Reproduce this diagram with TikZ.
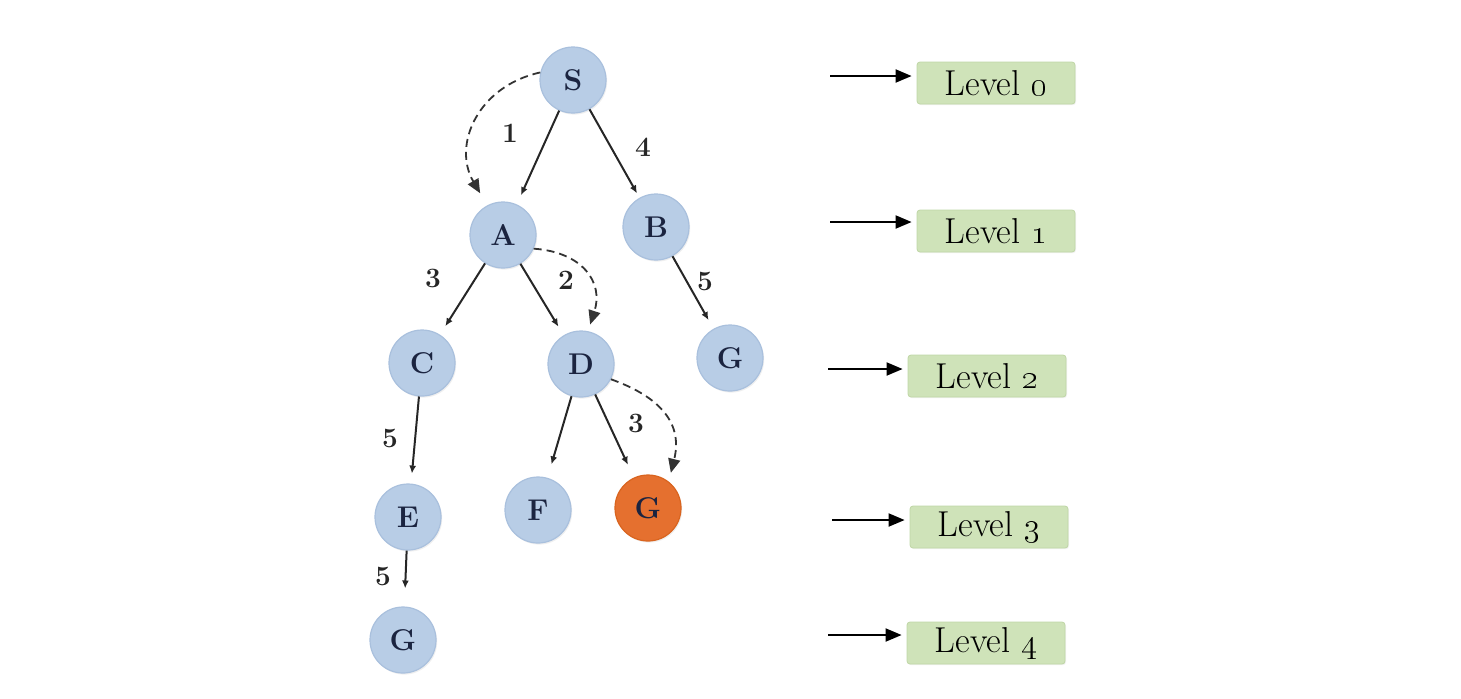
\documentclass[tikz,border=0pt]{standalone}
\usetikzlibrary{arrows.meta,shadows}

\definecolor{nodeblue}{HTML}{B8CDE6}
\definecolor{nodeedge}{HTML}{A9C0DD}
\definecolor{goalorange}{HTML}{E5702F}
\definecolor{goaledge}{HTML}{D9641F}
\definecolor{levgreen}{HTML}{CFE3B9}
\definecolor{levedge}{HTML}{BFD6A6}
\definecolor{inktext}{HTML}{1B2440}

\tikzset{
  state/.style={circle, minimum size=33pt, inner sep=0pt, fill=nodeblue,
    draw=nodeedge, line width=0.6pt, text=inktext,
    font=\fontsize{15}{17}\selectfont\bfseries,
    drop shadow={shadow xshift=0.6pt, shadow yshift=-0.8pt, fill=black!12}},
  goal/.style={state, fill=goalorange, draw=goaledge},
  levelbox/.style={rectangle, rounded corners=1.5pt, minimum width=79pt,
    minimum height=21pt, inner sep=0pt, fill=levgreen, draw=levedge,
    line width=0.4pt, text=black,
    font=\fontsize{18}{20}\selectfont,
    drop shadow={shadow xshift=0.5pt, shadow yshift=-0.6pt, fill=black!10}},
  weight/.style={font=\fontsize{14}{16}\selectfont\bfseries, text=black!85, inner sep=0pt},
  edge/.style={line width=1pt, draw=black!85,
    -{Latex[length=4pt,width=3.5pt]}, shorten >=5pt},
  dashedge/.style={line width=0.9pt, draw=black!80,
    dash pattern=on 4pt off 2.5pt,
    -{Triangle[length=7pt,width=6pt]}},
  levarrow/.style={line width=1pt, draw=black,
    -{Triangle[length=8pt,width=6.5pt]}, shorten >=2.5pt},
}

\begin{document}
\begin{tikzpicture}[x=0.5pt, y=-0.5pt]
  \useasboundingbox (0,0) rectangle (1461,698);

  % search tree
  \node[state] (S)  at (573,80)  {S};
  \node[state] (A)  at (503,235) {A};
  \node[state] (B)  at (656,227) {B};
  \node[state] (C)  at (422,363) {C};
  \node[state] (D)  at (581,364) {D};
  \node[state] (G1) at (730,358) {G};
  \node[state] (E)  at (408,517) {E};
  \node[state] (F)  at (538,510) {F};
  \node[goal]  (G2) at (648,508) {G};
  \node[state] (G3) at (403,640) {G};

  % tree edges
  \draw[edge] (S) -- (A);
  \draw[edge, shorten >=2.5pt] (S) -- (B);
  \draw[edge] (A) -- (C);
  \draw[edge] (A) -- (D);
  \draw[edge] (B) -- (G1);
  \draw[edge] (C) -- (E);
  \draw[edge, shorten >=7pt] (D) -- (F);
  \draw[edge, shorten >=7pt] (D) -- (G2);
  \draw[edge, shorten >=9pt] (E) -- (G3);

  % edge costs
  \node[weight] (w1) at (510,133) {1};
  \node[weight] (w2) at (643,147) {4};
  \node[weight] (w3) at (433,278) {3};
  \node[weight] (w4) at (566,280) {2};
  \node[weight] (w5) at (705,281) {5};
  \node[weight] (w6) at (390,438) {5};
  \node[weight] (w7) at (636,423) {3};
  \node[weight] (w8) at (383,576) {5};

  % dashed search path
  \draw[dashedge, shorten >=7pt] (S.167) .. controls (478,86) and (452,145) .. (A.118);
  \draw[dashedge, shorten >=3.5pt] (A.-24) .. controls (582,252) and (604,282) .. (D.78);
  \draw[dashedge, shorten >=4.5pt] (D.-27) .. controls (655,395) and (684,420) .. (G2.52);

  % level markers
  \node[levelbox] (L0) at (996,83)  {Level \oldstylenums{0}};
  \node[levelbox] (L1) at (996,231) {Level \oldstylenums{1}};
  \node[levelbox] (L2) at (987,376) {Level \oldstylenums{2}};
  \node[levelbox] (L3) at (989,527) {Level \oldstylenums{3}};
  \node[levelbox] (L4) at (986,643) {Level \oldstylenums{4}};

  \coordinate (p0) at (830,76);
  \coordinate (p1) at (830,222);
  \coordinate (p2) at (828,369);
  \coordinate (p3) at (832,520);
  \coordinate (p4) at (828,635);

  \draw[levarrow] (p0) -- (p0 -| L0.west);
  \draw[levarrow] (p1) -- (p1 -| L1.west);
  \draw[levarrow] (p2) -- (p2 -| L2.west);
  \draw[levarrow] (p3) -- (p3 -| L3.west);
  \draw[levarrow] (p4) -- (p4 -| L4.west);
\end{tikzpicture}
\end{document}
